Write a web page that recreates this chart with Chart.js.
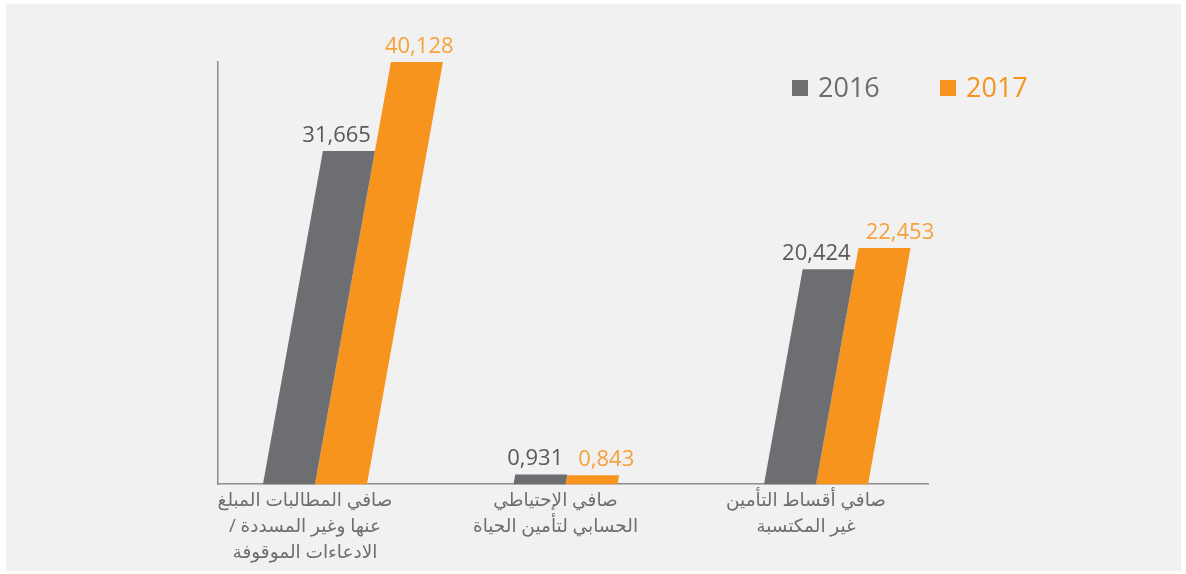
<!DOCTYPE html>
<html lang="ar">
<head>
<meta charset="utf-8">
<title>صافي المطالبات والاحتياطيات</title>
<script src="https://cdn.jsdelivr.net/npm/chart.js@4/dist/chart.umd.min.js"></script>
<style>
    html, body { margin: 0; padding: 0; background: #ffffff; }
    .panel {
        position: absolute; left: 6px; top: 4px;
        width: 1175px; height: 567px;
        background: #f1f1f1;
    }
    #chartCanvas { position: absolute; left: 0; top: 0; }
</style>
</head>
<body>
<div class="panel"></div>
<canvas id="chartCanvas" width="1186" height="574"></canvas>
<script>
// Category labels (one array entry per line)
const categories = [
    ['صافي المطالبات المبلغ', '/ عنها وغير المسددة', 'الادعاءات الموقوفة'],
    ['صافي الإحتياطي', 'الحسابي لتأمين الحياة'],
    ['صافي أقساط التأمين', 'غير المكتسبة']
];
const seriesNames = ['2016', '2017'];
const values2016 = [31.665, 0.931, 20.424];
const values2017 = [40.128, 0.843, 22.453];

const GREY = '#6d6e71';
const ORANGE = '#f7941d';
const FONT = "'Open Sans', 'DejaVu Sans', sans-serif";
const SLANT = 0.18;

// format 31.665 -> "31,665"
function fmt(v) {
    return v.toFixed(3).replace('.', ',');
}

// Draws each bar as a parallelogram leaning to the right
const slantedBars = {
    id: 'slantedBars',
    beforeDatasetDraw(chart, args) {
        const ctx = chart.ctx;
        const ds = chart.data.datasets[args.index];
        ctx.save();
        ctx.fillStyle = ds.backgroundColor;
        args.meta.data.forEach(bar => {
            const p = bar.getProps(['x', 'y', 'base', 'width'], true);
            const shift = (p.base - p.y) * SLANT;
            const l = p.x - p.width / 2;
            const r = p.x + p.width / 2;
            ctx.beginPath();
            ctx.moveTo(l, p.base);
            ctx.lineTo(r, p.base);
            ctx.lineTo(r + shift, p.y);
            ctx.lineTo(l + shift, p.y);
            ctx.closePath();
            ctx.fill();
        });
        ctx.restore();
        return false;
    }
};

// Value labels above the bar tops
const valueLabels = {
    id: 'valueLabels',
    afterDatasetsDraw(chart) {
        const ctx = chart.ctx;
        const greyMeta = chart.getDatasetMeta(0);
        const orangeMeta = chart.getDatasetMeta(1);
        ctx.save();
        ctx.font = '22px ' + FONT;
        ctx.textBaseline = 'alphabetic';
        greyMeta.data.forEach((g, i) => {
            const gp = g.getProps(['x', 'y', 'base', 'width'], true);
            const op = orangeMeta.data[i].getProps(['x', 'y', 'base', 'width'], true);
            const gTopRight = gp.x + gp.width / 2 + (gp.base - gp.y) * SLANT;
            const oTopLeft = op.x - op.width / 2 + (op.base - op.y) * SLANT;
            const gText = fmt(values2016[i]);
            const oText = fmt(values2017[i]);
            const gRight = gTopRight - 4;
            const gY = gp.y - 9;
            const oY = op.y - 9;
            let oLeft = oTopLeft - 6;
            if (Math.abs(gY - oY) < 22) {
                oLeft = Math.max(oLeft, gRight + 15);
            }
            ctx.fillStyle = '#58595b';
            ctx.textAlign = 'right';
            ctx.fillText(gText, gRight, gY);
            ctx.fillStyle = '#f7a13a';
            ctx.textAlign = 'left';
            ctx.fillText(oText, oLeft, oY);
        });
        ctx.restore();
    }
};

// Legend in the top right corner
const cornerLegend = {
    id: 'cornerLegend',
    afterDraw(chart, args, opts) {
        const ctx = chart.ctx;
        ctx.save();
        ctx.font = '27px ' + FONT;
        ctx.textBaseline = 'middle';
        ctx.textAlign = 'left';
        chart.data.datasets.forEach((ds, i) => {
            const x = opts.x + i * opts.step;
            ctx.fillStyle = ds.backgroundColor;
            ctx.fillRect(x, opts.y - 8, 16, 16);
            ctx.fillText(ds.label, x + 26, opts.y + 1);
        });
        ctx.restore();
    }
};

const ctx = document.getElementById('chartCanvas').getContext('2d');

new Chart(ctx, {
    type: 'bar',
    data: {
        datasets: [
            {
                label: seriesNames[0],
                data: values2016.map((v, i) => ({ x: i, y: v })),
                backgroundColor: GREY
            },
            {
                label: seriesNames[1],
                data: values2017.map((v, i) => ({ x: i, y: v })),
                backgroundColor: ORANGE
            }
        ]
    },
    options: {
        responsive: false,
        animation: false,
        devicePixelRatio: 1,
        barThickness: 52,
        layout: {
            padding: { left: 218, right: 258, top: 62, bottom: 5 }
        },
        scales: {
            x: {
                type: 'linear',
                offset: false,
                min: -0.387,
                max: 2.447,
                afterBuildTicks: scale => {
                    scale.ticks = categories.map((c, i) => ({ value: i }));
                },
                grid: { display: false, drawTicks: false },
                border: { display: true, color: '#8e8e8e', width: 1.5 },
                ticks: {
                    autoSkip: false,
                    maxRotation: 0,
                    padding: 3,
                    labelOffset: -10,
                    color: '#6d6e71',
                    font: { family: FONT, size: 18.5, lineHeight: 1.42 },
                    callback: value => categories[value]
                }
            },
            y: {
                min: 0,
                max: 40.128,
                grid: { display: false, drawTicks: false },
                border: { display: true, color: '#8e8e8e', width: 1.5 },
                ticks: { display: false }
            }
        },
        plugins: {
            legend: { display: false },
            tooltip: { enabled: false },
            cornerLegend: { x: 792, y: 88, step: 148 }
        }
    },
    plugins: [slantedBars, valueLabels, cornerLegend]
});
</script>
</body>
</html>
